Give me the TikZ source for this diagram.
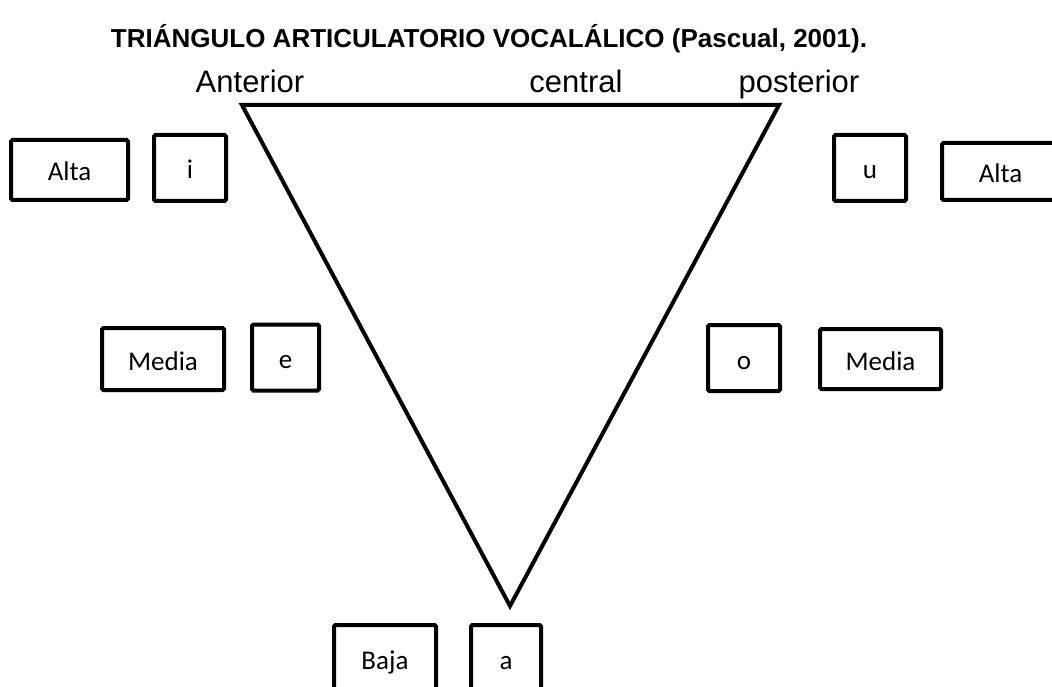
\documentclass[tikz,border=0pt]{standalone}
\usepackage{fontspec}
\setmainfont{Liberation Sans}
\newfontfamily\boxfont{Carlito}
\begin{document}
\begin{tikzpicture}[x=1pt,y=-1pt,
    caja/.style={draw,line width=4pt,rounded corners=1.5pt,inner sep=0pt,
        text height=22pt,text depth=0pt,
        font=\boxfont\fontsize{27}{30}\selectfont},
    ancha/.style={caja,minimum width=117pt,minimum height=60pt},
    vocal/.style={caja,minimum width=72pt,minimum height=66pt},
    rotulo/.style={anchor=base,font=\fontsize{31}{34}\selectfont}]
    \useasboundingbox (0,0) rectangle (1052,687);
    \clip (0,0) rectangle (1052,687);
    \node[anchor=base,font=\bfseries\fontsize{26}{30}\selectfont] (titulo) at (489,48)
        {TRIÁNGULO ARTICULATORIO VOCALÁLICO (Pascual, 2001).};
    \node[rotulo] (anterior) at (250,93) {Anterior};
    \node[rotulo] (central) at (576,93) {central};
    \node[rotulo] (posterior) at (799,93) {posterior};
    % triangulo
    \coordinate (ant) at (242,105);
    \coordinate (post) at (779,105);
    \coordinate (baja) at (510,606);
    \draw[line width=4pt] (ant) -- (post) -- (baja) -- cycle;
    % cajas
    \node[ancha] (altaI) at (69.5,170) {Alta};
    \node[vocal] (i) at (190,168) {i};
    \node[vocal] (u) at (870,168) {u};
    \node[ancha,minimum height=57pt] (altaD) at (1000.5,171.5) {Alta};
    \node[ancha,minimum width=122pt,minimum height=62pt] (mediaI) at (163,359) {Media};
    \node[vocal,minimum width=67pt] (e) at (285.5,357.5) {e};
    \node[vocal] (o) at (744,358) {o};
    \node[ancha,minimum width=121pt,minimum height=60pt] (mediaD) at (880.5,359) {Media};
    \node[ancha,minimum width=102pt,minimum height=66pt] (bajaC) at (385,658) {Baja};
    \node[vocal,minimum width=70pt] (a) at (506,658) {a};
\end{tikzpicture}
\end{document}
